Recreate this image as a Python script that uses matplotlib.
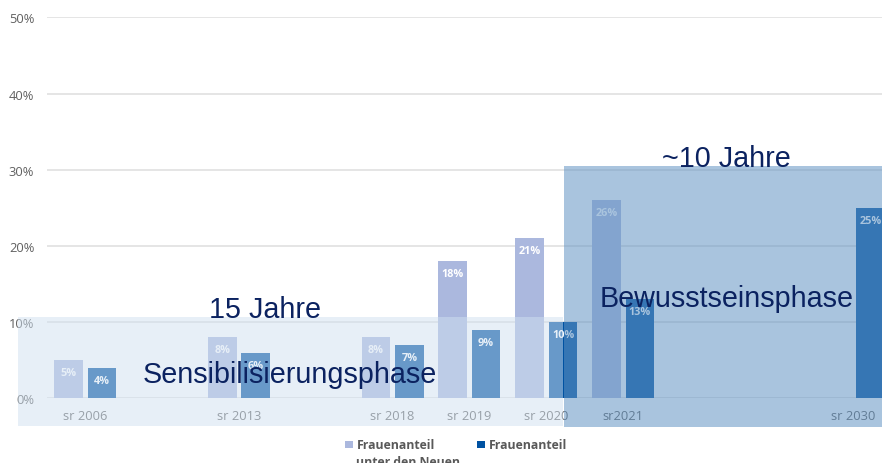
import numpy as np
import matplotlib
matplotlib.use("Agg")
import matplotlib.pyplot as plt
from matplotlib.patches import Rectangle

# slot layout of the Excel chart: empty labels are spacer slots
categories = ["sr 2006", "", "sr 2013", "", "sr 2018", "sr 2019", "sr 2020",
              "sr2021", "", "", "sr 2030"]
new_share = [5, np.nan, 8, np.nan, 8, 18, 21, 26, np.nan, np.nan, np.nan]
total_share = [4, np.nan, 6, np.nan, 7, 9, 10, 13, np.nan, np.nan, 25]
y_ticks = [0, 10, 20, 30, 40, 50]
legend_labels = [["Frauenanteil", "unter den Neuen"], ["Frauenanteil"]]

LIGHT = "#ABB8DE"
DARK = "#0052A2"
NAVY = "#0B2260"
GREY = "#606060"
W, H = 882, 464


def px(x, y):
    return x / W, 1 - y / H


fig = plt.figure(figsize=(W / 100, H / 100), dpi=100)
ax = fig.add_axes([46.8 / W, 1 - 399.3 / H, 845.3 / W, 381.0 / H])

x = np.arange(len(categories))
bw = 0.373
off = 0.2175
ax.bar(x - off, new_share, bw, color=LIGHT, zorder=2)
ax.bar(x + off, total_share, bw, color=DARK, zorder=2)

for xs, vals in ((x - off, new_share), (x + off, total_share)):
    for xi, v in zip(xs, vals):
        if np.isnan(v):
            continue
        ax.annotate(f"{v:.0f}%", (xi, v), xytext=(0, -9.1), textcoords="offset points",
                    ha="center", va="center", color="white", fontsize=7.8,
                    fontweight="bold", family="Open Sans", zorder=3)

ax.set_xlim(-0.5, 10.5)
ax.set_ylim(0, 50)
ax.set_yticks(y_ticks)
ax.set_yticklabels([f"{t}%" for t in y_ticks])
ax.set_xticks(x)
ax.set_xticklabels(categories)
ax.tick_params(length=0, colors=GREY, labelsize=9.3)
ax.tick_params(axis="y", pad=9.0)
ax.tick_params(axis="x", pad=7.5)
for lab in ax.get_xticklabels() + ax.get_yticklabels():
    lab.set_family("Open Sans")
ax.yaxis.grid(True, color="#E0E0E0", lw=1.2, zorder=0)
ax.set_axisbelow(True)
for s in ax.spines.values():
    s.set_visible(False)

# phase overlays (semi-transparent boxes laid over the chart)
x0, y0 = px(18.3, 427.3)
x1, y1 = px(563.5, 317.5)
fig.add_artist(Rectangle((x0, y0), x1 - x0, y1 - y0, transform=fig.transFigure,
                         fc="#D0E0F0", ec="none", alpha=0.5, zorder=1))
x0, y0 = px(563.5, 427.7)
x1, y1 = px(W + 5, 167.3)
fig.add_artist(Rectangle((x0, y0), x1 - x0, y1 - y0, transform=fig.transFigure,
                         fc="#6394C3", ec="none", alpha=0.55, zorder=1))

for txt, (tx, ty) in [("15 Jahre", (209, 317.7)),
                      ("Sensibilisierungsphase", (142.3, 382.7)),
                      ("~10 Jahre", (662.5, 166.7)),
                      ("Bewusstseinsphase", (599.7, 307.3))]:
    fig.text(*px(tx, ty), txt, ha="left", va="baseline", color=NAVY,
             fontsize=20.7, family="Liberation Sans", zorder=4)

# legend drawn by hand so the square sits beside the first line
for col, lines, sx in ((LIGHT, legend_labels[0], 345.0), (DARK, legend_labels[1], 477.3)):
    lx, ly = px(sx, 449.0)
    fig.add_artist(Rectangle((lx, ly), 7.7 / W, 7.5 / H, transform=fig.transFigure,
                             fc=col, ec="none"))
    for i, line in enumerate(lines):
        fig.text(*px(sx + 11.5, 449.3 + i * 16.5), line, ha="left", va="baseline",
                 color="#595959", fontsize=8.8, fontweight="bold", family="Open Sans")

fig.savefig("out.png", dpi=100, facecolor="white")
